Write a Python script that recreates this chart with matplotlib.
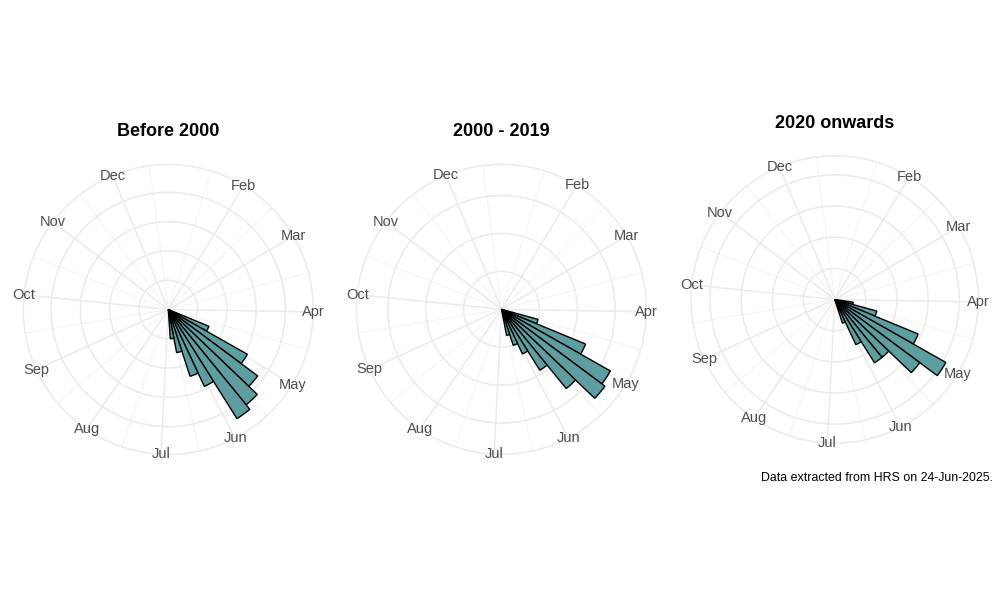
import numpy as np
import matplotlib
matplotlib.use("Agg")
import matplotlib.pyplot as plt

plt.rcParams['font.family'] = ['Liberation Sans', 'DejaVu Sans']

# ---- data ----
months = ['Feb', 'Mar', 'Apr', 'May', 'Jun', 'Jul', 'Aug', 'Sep', 'Oct', 'Nov', 'Dec']
month_week = [4.43, 8.43, 12.86, 17.14, 21.57, 25.86, 30.29, 34.71, 39.0, 43.43, 47.71]

titles = ['Before 2000', '2000 - 2019', '2020 onwards']

weeks_p1 = [16.4, 17.4, 18.4, 19.4, 20.4, 21.4, 22.4, 23.4, 24.4]
counts_p1 = [15, 31, 38, 42, 44, 29, 24, 15, 10]

weeks_p2 = [15.4, 16.4, 17.4, 18.4, 19.4, 20.4, 21.4, 22.4, 23.4]
counts_p2 = [10, 24, 33, 34, 27, 19, 13, 10, 7]

weeks_p3 = [14.4, 15.4, 16.4, 17.4, 18.4, 19.4, 20.4, 21.4, 22.4]
counts_p3 = [6, 14, 29, 41, 34, 24, 24, 16, 8]

r_breaks = [[10, 20, 30, 40], [10, 20, 30], [10, 20, 30, 40]]

caption = 'Data extracted from HRS on 24-Jun-2025.'

# ---- style / layout ----
SPAN = 50.9  # weeks per full turn of the theta scale
W, H = 1000, 600
centers = [(168.3, 309.5), (501.5, 309.3), (834.7, 299.5)]
radii = [145.0, 145.0, 143.7]
title_y = [131.7, 131.7, 123.3]
GRID = '#EBEBEB'
FILL = '#5F9EA0'


def th(x):
    return np.asarray(x, dtype=float) / SPAN * 2 * np.pi


mw = np.array(month_week)
minor = list((mw[:-1] + mw[1:]) / 2)
minor = [mw[0] - (mw[1] - mw[0]) / 2] + minor + [mw[-1] + (mw[-1] - mw[-2]) / 2]

fig = plt.figure(figsize=(W / 100, H / 100), dpi=100)

panels = [(weeks_p1, counts_p1), (weeks_p2, counts_p2), (weeks_p3, counts_p3)]
for i, (wk, ct) in enumerate(panels):
    cx, cy = centers[i]
    R = radii[i]
    rect = [(cx - R) / W, (H - cy - R) / H, 2 * R / W, 2 * R / H]
    ax = fig.add_axes(rect, projection='polar')
    ax.set_theta_zero_location('N')
    ax.set_theta_direction(-1)
    vmax = max(ct)
    rmax = vmax / 0.4 * 0.45
    ax.set_ylim(0, rmax)
    ax.set_xticks(th(month_week))
    ax.set_xticks(th(minor), minor=True)
    ax.set_xticklabels([])
    ax.set_yticks(r_breaks[i])
    ax.set_yticklabels([])
    ax.tick_params(length=0, which='both')
    ax.xaxis.grid(True, which='major', color=GRID, linewidth=1.1)
    ax.xaxis.grid(True, which='minor', color='#F0F0F0', linewidth=0.6)
    ax.yaxis.grid(True, which='major', color=GRID, linewidth=1.1)
    ax.spines['polar'].set_color(GRID)
    ax.spines['polar'].set_linewidth(1.1)
    ax.set_facecolor('none')
    ax.set_axisbelow(True)
    ax.bar(th(wk), ct, width=th(1.0), align='center', bottom=0,
           color=FILL, edgecolor='black', linewidth=1.0, zorder=3)
    for m, w in zip(months, month_week):
        ax.text(th(w), rmax, m, ha='center', va='center', fontsize=10.5,
                color='#4D4D4D', clip_on=False, zorder=4)
    fig.text(cx / W, 1 - title_y[i] / H, titles[i], ha='center', va='center',
             fontsize=13, fontweight='bold', color='black')

fig.text(993.3 / W, 1 - 478 / H, caption, ha='right', va='center',
         fontsize=8.9, color='black')

fig.savefig('out.png', dpi=100, facecolor='white')
